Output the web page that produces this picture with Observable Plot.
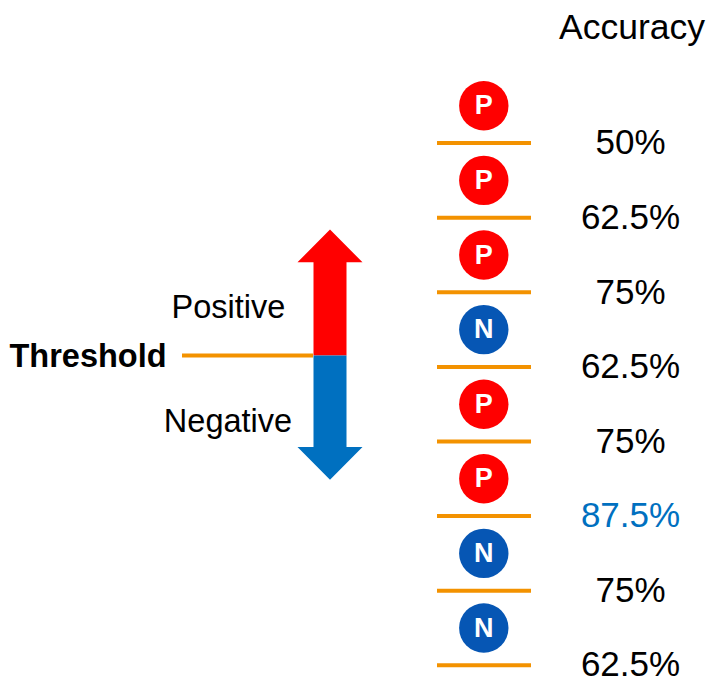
<!DOCTYPE html>
<html>
<head>
<meta charset="utf-8">
<script src="https://cdn.jsdelivr.net/npm/d3@7"></script>
<script src="https://cdn.jsdelivr.net/npm/@observablehq/plot@0.6"></script>
<style>
  html, body { margin: 0; padding: 0; background: #fff; }
  #chart svg { display: block; }
</style>
</head>
<body>
<div id="chart"></div>
<script>
// ---- data ----
const outcomes = ["P", "P", "P", "N", "P", "P", "N", "N"];
const accuracies = [50, 62.5, 75, 62.5, 75, 87.5, 75, 62.5];
const headerLabel = "Accuracy";
const thresholdLabel = "Threshold";
const directionLabels = ["Positive", "Negative"];

// ---- layout (row units on y; pixel-like units on x) ----
const W = 711, H = 680;
const RED = "#ff0000", BLUE_CIRCLE = "#0656b4", BLUE = "#0070c0", ORANGE = "#f39200";
const FONT = "Arial, 'Liberation Sans', Helvetica, sans-serif";

const rows = outcomes.map((o, i) => ({i, outcome: o, acc: accuracies[i]}));
const best = d3.max(accuracies);
const fmt = v => `${v}%`;

// left schematic
const thrY = 3.347;          // threshold level (row units)
const arrow = {xc: 329.5, shaftHalf: 16.5, headHalf: 32.5, headLen: 0.44, up: 1.658, down: 5.013};
function arrowPart(tip, dir) {
  const base = tip + dir * arrow.headLen;
  const {xc, shaftHalf: s, headHalf: h} = arrow;
  return [
    [xc - s, thrY], [xc - s, base], [xc - h, base], [xc, tip],
    [xc + h, base], [xc + s, base], [xc + s, thrY]
  ].map(([x, y]) => ({x, y}));
}
const upArrow = arrowPart(arrow.up, 1);
const downArrow = arrowPart(arrow.down, -1);

const chart = Plot.plot({
  width: W,
  height: H,
  margin: 0,
  style: {fontFamily: FONT, background: "#fff"},
  x: {domain: [0, W], range: [0, W], axis: null},
  y: {domain: [-1.4115, 7.7038], range: [0, H], axis: null},
  color: {domain: ["P", "N"], range: [RED, BLUE_CIRCLE]},
  marks: [
    // arrow
    Plot.line(upArrow, {x: "x", y: "y", fill: RED, stroke: "none", curve: "linear-closed"}),
    Plot.line(downArrow, {x: "x", y: "y", fill: BLUE, stroke: "none", curve: "linear-closed"}),
    // threshold line
    Plot.ruleY([thrY], {x1: 182, x2: arrow.xc - arrow.shaftHalf, stroke: ORANGE, strokeWidth: 4}),
    Plot.text([thresholdLabel], {x: 9, y: thrY + 0.012, text: d => d, textAnchor: "start", fontSize: 32.5, fontWeight: "bold", fill: "#000"}),
    Plot.text([directionLabels[0]], {x: 228, y: 2.70, text: d => d, fontSize: 32.5, fill: "#000"}),
    Plot.text([directionLabels[1]], {x: 227.5, y: 4.232, text: d => d, fontSize: 32.5, fill: "#000"}),
    // row separators
    Plot.ruleY(rows, {y: d => d.i + 0.5, x1: 437, x2: 531, stroke: ORANGE, strokeWidth: 4}),
    // circles
    Plot.dot(rows, {x: 483.3, y: "i", r: 24.7, fill: "outcome", stroke: "none"}),
    Plot.text(rows, {x: 483.3, y: "i", text: "outcome", fill: "#fff", fontWeight: "bold", fontSize: 27}),
    // accuracies
    Plot.text(rows, {filter: d => d.acc !== best, x: 630, y: d => d.i + 0.5, text: d => fmt(d.acc), fontSize: 35, fill: "#000"}),
    Plot.text(rows, {filter: d => d.acc === best, x: 630, y: d => d.i + 0.5, text: d => fmt(d.acc), fontSize: 35, fill: BLUE}),
    // header
    Plot.text([headerLabel], {x: 631.5, y: -1.05, text: d => d, fontSize: 35.5, fill: "#000"})
  ]
});
document.getElementById("chart").appendChild(chart);
</script>
</body>
</html>
